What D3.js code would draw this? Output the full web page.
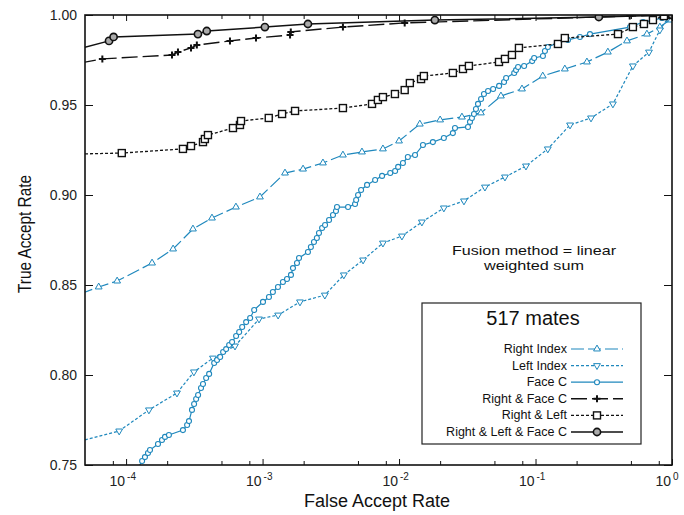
<!DOCTYPE html>
<html>
<head>
<meta charset="utf-8">
<script src="https://cdn.jsdelivr.net/npm/d3@7"></script>
<style>
  body { margin: 0; background: #fff; }
  svg { font-family: "Liberation Sans", Arial, sans-serif; }
</style>
</head>
<body>
<svg width="684" height="515"></svg>
<script>
// values (FAR on a log axis, TAR linear)
const rightIndexFar = [4.6e-5, 6.3e-5, 8.6e-5, 1.55e-4, 2.21e-4, 3.09e-4, 4.26e-4, 6.38e-4, 9.57e-4, 1.46e-3, 1.98e-3, 2.77e-3, 3.88e-3, 5.35e-3, 7.62e-3, 1.0e-2, 1.42e-2, 2.0e-2, 2.89e-2, 3.98e-2, 5.58e-2, 7.96e-2, 0.113, 0.164, 0.238, 0.339, 0.468, 0.655, 0.815, 0.964, 1];
const rightIndexTar = [0.845, 0.8489, 0.8522, 0.8622, 0.87, 0.8811, 0.8872, 0.8933, 0.8989, 0.9122, 0.9144, 0.9178, 0.9222, 0.9239, 0.9256, 0.93, 0.9394, 0.9417, 0.9433, 0.9456, 0.955, 0.9589, 0.9661, 0.97, 0.9739, 0.9794, 0.9856, 0.9894, 0.9933, 0.9972, 1];

const leftIndexFar = [4.6e-5, 8.9e-5, 1.47e-4, 2.36e-4, 3.14e-4, 4.33e-4, 6.28e-4, 9.42e-4, 1.30e-3, 1.88e-3, 2.86e-3, 3.94e-3, 5.45e-3, 7.62e-3, 1.05e-2, 1.47e-2, 2.13e-2, 2.99e-2, 4.26e-2, 5.97e-2, 8.51e-2, 0.123, 0.179, 0.255, 0.369, 0.517, 0.678, 0.815, 0.933, 1];
const leftIndexTar = [0.7633, 0.7689, 0.7806, 0.79, 0.8017, 0.8094, 0.8161, 0.8311, 0.8333, 0.8406, 0.8444, 0.8556, 0.8639, 0.8733, 0.8772, 0.885, 0.8928, 0.8967, 0.9044, 0.91, 0.9161, 0.9256, 0.9389, 0.9428, 0.9506, 0.9717, 0.9794, 0.9917, 0.9983, 1];

const faceFar = [
  1.20e-4, 1.31e-4, 1.375e-4, 1.447e-4, 1.497e-4, 1.713e-4, 1.833e-4, 1.928e-4, 2.06e-4, 2.61e-4,
  2.80e-4, 2.89e-4, 3.04e-4, 3.15e-4, 3.26e-4, 3.37e-4, 3.54e-4, 3.66e-4, 3.86e-4, 4.06e-4,
  4.42e-4, 4.64e-4, 4.89e-4, 5.14e-4, 5.41e-4, 5.69e-4, 5.98e-4, 6.40e-4, 6.74e-4, 7.09e-4,
  7.58e-4, 8.11e-4, 8.68e-4, 1.007e-3, 1.114e-3, 1.19e-3, 1.297e-3, 1.41e-3, 1.51e-3, 1.615e-3,
  1.67e-3, 1.787e-3, 1.85e-3, 2.15e-3, 2.26e-3, 2.38e-3, 2.50e-3, 2.59e-3, 2.73e-3, 2.87e-3,
  3.07e-3, 3.28e-3, 3.45e-3, 3.51e-3, 4.23e-3, 4.76e-3, 4.85e-3, 5.01e-3, 5.27e-3, 5.83e-3,
  6.68e-3, 7.51e-3, 8.62e-3, 9.36e-3, 9.85e-3, 1.068e-2, 1.16e-2, 1.31e-2, 1.497e-2, 1.77e-2,
  2.13e-2, 2.48e-2, 2.57e-2, 3.2e-2, 3.31e-2, 3.42e-2, 3.54e-2, 3.66e-2, 3.79e-2, 3.99e-2,
  4.19e-2, 4.49e-2, 4.89e-2, 5.41e-2, 5.88e-2, 6.09e-2, 6.98e-2, 7.2e-2, 7.45e-2, 8.25e-2,
  9.45e-2, 9.77e-2, 0.1133, 0.1172, 0.1233, 0.1435, 0.1728, 0.2116, 0.2506, 0.4925,
  0.614, 0.846, 1];
const faceTar = [
  0.7472, 0.7522, 0.7544, 0.7567, 0.7583, 0.7617, 0.7639, 0.7656, 0.7667, 0.7694,
  0.7722, 0.7744, 0.7806, 0.7839, 0.7867, 0.7889, 0.7928, 0.795, 0.7983, 0.8006,
  0.8067, 0.8083, 0.81, 0.8128, 0.8144, 0.8167, 0.8183, 0.8217, 0.8239, 0.8267,
  0.8294, 0.8317, 0.8361, 0.8406, 0.8433, 0.8461, 0.8489, 0.8517, 0.8533, 0.8556,
  0.8594, 0.8622, 0.865, 0.8683, 0.8711, 0.8739, 0.8761, 0.8789, 0.8817, 0.8833,
  0.8861, 0.8889, 0.8911, 0.8933, 0.8933, 0.895, 0.8972, 0.9, 0.9028, 0.9056,
  0.9083, 0.9106, 0.9122, 0.9133, 0.9156, 0.9178, 0.9211, 0.9222, 0.9278, 0.9294,
  0.9317, 0.9344, 0.9372, 0.9378, 0.9406, 0.9428, 0.945, 0.9478, 0.9506, 0.9533,
  0.9561, 0.9578, 0.9589, 0.9606, 0.9628, 0.965, 0.9678, 0.9694, 0.9711, 0.9717,
  0.9744, 0.9761, 0.9772, 0.98, 0.9822, 0.9844, 0.9861, 0.9878, 0.9894, 0.9933,
  0.9961, 0.9983, 1];

const rightFaceFar = [4.6e-5, 6.7e-5, 2.17e-4, 2.4e-4, 2.99e-4, 3.3e-4, 5.77e-4, 8.95e-4, 1.59e-3, 1.61e-3, 3.88e-3, 1.1e-2, 0.49, 1];
const rightFaceTar = [0.9733, 0.9756, 0.9778, 0.9794, 0.9817, 0.9833, 0.9856, 0.9872, 0.9889, 0.9906, 0.9933, 0.9956, 0.9994, 1];

const rightLeftFar = [4.6e-5, 9.3e-5, 2.61e-4, 2.99e-4, 3.66e-4, 3.78e-4, 3.98e-4, 6.07e-4, 6.83e-4, 6.95e-4, 1.11e-3, 1.39e-3, 1.73e-3, 3.88e-3, 6.34e-3, 7.0e-3, 7.62e-3, 9.33e-3, 1.10e-2, 1.2e-2, 1.45e-2, 1.52e-2, 2.48e-2, 2.94e-2, 3.25e-2, 5.4e-2, 5.97e-2, 6.72e-2, 7.56e-2, 0.146, 0.164, 0.402, 0.517, 0.623, 0.725, 0.873, 1];
const rightLeftTar = [0.9228, 0.9233, 0.9256, 0.9272, 0.9294, 0.9311, 0.9333, 0.9372, 0.9389, 0.9411, 0.9428, 0.945, 0.9467, 0.9483, 0.9506, 0.9528, 0.9544, 0.9561, 0.9583, 0.9622, 0.9644, 0.9661, 0.9678, 0.97, 0.9717, 0.9739, 0.9756, 0.9778, 0.9817, 0.9839, 0.9872, 0.9894, 0.9933, 0.995, 0.9972, 0.9994, 1];

const allThreeFar = [4.6e-5, 7.5e-5, 8.1e-5, 3.36e-4, 3.9e-4, 1.04e-3, 2.15e-3, 1.83e-2, 0.291, 1];
const allThreeTar = [0.9814, 0.9856, 0.9878, 0.9894, 0.9911, 0.9933, 0.995, 0.9972, 0.9989, 1];

const xMajor = [1e-4, 1e-3, 1e-2, 1e-1, 1];
const xMinor = [8e-5, 2e-4, 5e-4, 8e-4, 2e-3, 5e-3, 8e-3, 2e-2, 5e-2, 8e-2, 2e-1, 5e-1, 8e-1];
const yTicks = [0.75, 0.8, 0.85, 0.9, 0.95, 1.0];

const blue = "#1f88bd";
const black = "#111";

const series = [
  { name: "Right Index", far: rightIndexFar, tar: rightIndexTar, color: blue, dash: "13,4", marker: "triUp", width: 1.2 },
  { name: "Left Index", far: leftIndexFar, tar: leftIndexTar, color: blue, dash: "3,2", marker: "triDown", width: 1.2 },
  { name: "Face C", far: faceFar, tar: faceTar, color: blue, dash: null, marker: "ring", width: 1.2 },
  { name: "Right & Face C", far: rightFaceFar, tar: rightFaceTar, color: black, dash: "16,5", marker: "plus", width: 1.4 },
  { name: "Right & Left", far: rightLeftFar, tar: rightLeftTar, color: black, dash: "3,2", marker: "square", width: 1.3 },
  { name: "Right & Left & Face C", far: allThreeFar, tar: allThreeTar, color: black, dash: null, marker: "bigCircle", width: 1.5 },
];

const svg = d3.select("svg");
const x = d3.scaleLog().domain([5e-5, 1]).range([85, 672]);
const y = d3.scaleLinear().domain([0.75, 1]).range([465, 15]);

svg.append("defs").append("clipPath").attr("id", "plotClip")
  .append("rect").attr("x", 85).attr("y", 15).attr("width", 587).attr("height", 450);

function drawMarker(g, type, color) {
  if (type === "triUp" || type === "triDown") {
    g.append("path")
      .attr("d", d3.symbol(d3.symbolTriangle, 20)())
      .attr("transform", type === "triDown" ? "rotate(180)" : null)
      .attr("fill", "#fff").attr("stroke", color).attr("stroke-width", 1);
  } else if (type === "ring") {
    g.append("circle").attr("r", 2.5)
      .attr("fill", "#fff").attr("stroke", color).attr("stroke-width", 1.1);
  } else if (type === "plus") {
    g.append("path").attr("d", "M-3.5,0H3.5M0,-3.5V3.5")
      .attr("stroke", color).attr("stroke-width", 2);
  } else if (type === "square") {
    g.append("rect").attr("x", -3.5).attr("y", -3.5).attr("width", 7).attr("height", 7)
      .attr("fill", "#fff").attr("stroke", color).attr("stroke-width", 1.4);
  } else if (type === "bigCircle") {
    g.append("circle").attr("r", 3.6)
      .attr("fill", "#aaa").attr("stroke", color).attr("stroke-width", 1.6);
  }
}

// ticks
const axisG = svg.append("g").attr("stroke-width", 1);
function tickAxis(axis, transform) {
  axisG.append("g").attr("transform", transform).call(axis)
    .call((g) => g.select(".domain").remove())
    .call((g) => g.selectAll("line").attr("stroke", black));
}
tickAxis(d3.axisBottom(x).tickValues(xMajor).tickSize(-6).tickFormat(""), "translate(0,465)");
tickAxis(d3.axisBottom(x).tickValues(xMinor).tickSize(-4).tickFormat(""), "translate(0,465)");
tickAxis(d3.axisTop(x).tickValues(xMajor).tickSize(-6).tickFormat(""), "translate(0,15)");
tickAxis(d3.axisTop(x).tickValues(xMinor).tickSize(-4).tickFormat(""), "translate(0,15)");
tickAxis(d3.axisLeft(y).tickValues(yTicks).tickSize(-8).tickFormat(""), "translate(85,0)");
tickAxis(d3.axisRight(y).tickValues(yTicks).tickSize(-8).tickFormat(""), "translate(672,0)");

// curves
const plot = svg.append("g").attr("clip-path", "url(#plotClip)");
series.forEach((s) => {
  const pts = s.far.map((f, i) => [f, s.tar[i]]);
  const line = d3.line().x((d) => x(d[0])).y((d) => y(d[1]));
  plot.append("path").datum(pts).attr("d", line)
    .attr("fill", "none").attr("stroke", s.color)
    .attr("stroke-width", s.width).attr("stroke-dasharray", s.dash);
  plot.append("g").selectAll("g").data(pts).join("g")
    .attr("transform", (d) => `translate(${x(d[0])},${y(d[1])})`)
    .each(function () { drawMarker(d3.select(this), s.marker, s.color); });
});

// frame
svg.append("rect").attr("x", 85).attr("y", 15).attr("width", 587).attr("height", 450)
  .attr("fill", "none").attr("stroke", black).attr("stroke-width", 1.6);

// tick labels
svg.append("g").selectAll("text").data(yTicks).join("text")
  .attr("x", 77).attr("y", (d) => y(d) + 5)
  .attr("text-anchor", "end").attr("font-size", 14).attr("fill", "#222")
  .text((d) => d3.format(".2f")(d));

const xl = svg.append("g").selectAll("g").data(xMajor).join("g")
  .attr("transform", (d) => `translate(${x(d)},486)`);
xl.append("text").attr("x", -1).attr("text-anchor", "end")
  .attr("font-size", 14).attr("fill", "#222").text("10");
xl.append("text").attr("x", 1).attr("y", -6)
  .attr("font-size", 10).attr("fill", "#222").text((d) => "" + Math.round(Math.log10(d)));

// axis titles
svg.append("text").attr("x", 377).attr("y", 507).attr("text-anchor", "middle")
  .attr("font-size", 18).attr("fill", "#111").text("False Accept Rate");
svg.append("text").attr("transform", "translate(31,234) rotate(-90)")
  .attr("text-anchor", "middle").attr("font-size", 18).attr("fill", "#111")
  .attr("textLength", 118).attr("lengthAdjust", "spacingAndGlyphs")
  .text("True Accept Rate");

// annotation
svg.append("text").attr("x", 534).attr("y", 255).attr("text-anchor", "middle")
  .attr("font-size", 13).attr("fill", "#111")
  .attr("textLength", 164).attr("lengthAdjust", "spacingAndGlyphs")
  .text("Fusion method = linear");
svg.append("text").attr("x", 534).attr("y", 270).attr("text-anchor", "middle")
  .attr("font-size", 13).attr("fill", "#111")
  .attr("textLength", 100).attr("lengthAdjust", "spacingAndGlyphs")
  .text("weighted sum");

// legend
const legend = svg.append("g");
legend.append("rect").attr("x", 422).attr("y", 303).attr("width", 219).attr("height", 141)
  .attr("fill", "#fff").attr("stroke", "#222").attr("stroke-width", 1.2);
legend.append("text").attr("x", 533).attr("y", 325).attr("text-anchor", "middle")
  .attr("font-size", 20).attr("fill", "#111").text("517 mates");
const rows = legend.selectAll("g.row").data(series).join("g").attr("class", "row")
  .attr("transform", (d, i) => `translate(0,${353 + i * 16.6})`);
rows.append("text").attr("x", 567).attr("text-anchor", "end")
  .attr("font-size", 12.5).attr("fill", "#111").text((d) => d.name);
rows.append("line").attr("x1", 571).attr("x2", 623).attr("y1", -4).attr("y2", -4)
  .attr("stroke", (d) => d.color).attr("stroke-width", (d) => d.width)
  .attr("stroke-dasharray", (d) => d.dash);
rows.append("g").attr("transform", "translate(597,-4)")
  .each(function (d) { drawMarker(d3.select(this), d.marker, d.color); });
</script>
</body>
</html>
